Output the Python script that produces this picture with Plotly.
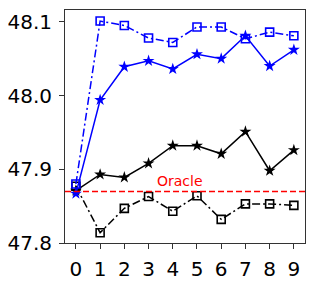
import plotly.graph_objects as go

x = list(range(10))
blue_sq = [47.880, 48.101, 48.095, 48.078, 48.072, 48.093, 48.093, 48.077, 48.086, 48.081]
blue_star = [47.867, 47.994, 48.039, 48.047, 48.036, 48.056, 48.050, 48.081, 48.040, 48.062]
black_star = [47.871, 47.893, 47.889, 47.908, 47.932, 47.932, 47.921, 47.951, 47.898, 47.926]
black_sq = [47.877, 47.814, 47.847, 47.863, 47.843, 47.864, 47.832, 47.853, 47.853, 47.851]
oracle = 47.870
yticks = [47.8, 47.9, 48.0, 48.1]

fig = go.Figure()
fig.add_trace(go.Scatter(x=x, y=black_sq, mode="lines+markers",
    line=dict(color="black", width=1.5, dash="8px,3px,2px,3px"),
    marker=dict(symbol="square-open", size=8, color="black", line=dict(width=1.6))))
fig.add_trace(go.Scatter(x=x, y=black_star, mode="lines+markers",
    line=dict(color="black", width=1.5),
    marker=dict(symbol="star", size=9, color="black")))
fig.add_trace(go.Scatter(x=x, y=blue_sq, mode="lines+markers",
    line=dict(color="#0000ff", width=1.5, dash="8px,3px,2px,3px"),
    marker=dict(symbol="square-open", size=8, color="#0000ff", line=dict(width=1.6))))
fig.add_trace(go.Scatter(x=x, y=blue_star, mode="lines+markers",
    line=dict(color="#0000ff", width=1.5),
    marker=dict(symbol="star", size=9, color="#0000ff")))

fig.add_hline(y=oracle, line=dict(color="red", width=1.5, dash="6px,3px"))
fig.add_annotation(x=4.3, y=oracle, yshift=10, text="Oracle", showarrow=False,
    font=dict(color="red", size=14, family="DejaVu Sans"))

# page body has an 8px default margin; size the figure to fit the window
fig.update_layout(
    width=308, height=273, showlegend=False,
    margin=dict(l=57, r=11, t=2, b=38),
    paper_bgcolor="white", plot_bgcolor="white",
    font=dict(family="DejaVu Sans", color="black", size=20),
)
fig.update_xaxes(range=[-0.45, 9.46], tickmode="array", tickvals=x,
    ticktext=[str(i) for i in x], showgrid=False, zeroline=False,
    showline=True, linecolor="#333", linewidth=1, mirror=True, automargin=False,
    ticks="outside", ticklen=5, tickcolor="#333", tickfont=dict(size=20),
    ticklabelstandoff=3)
fig.update_yaxes(range=[47.8, 48.116], tickmode="array", tickvals=yticks,
    ticktext=["47.8", "47.9", "48.0", "48.1"], showgrid=False, zeroline=False,
    showline=True, linecolor="#333", linewidth=1, mirror=True, automargin=False,
    ticks="outside", ticklen=5, tickcolor="#333", tickfont=dict(size=20),
    ticklabelstandoff=3)

fig.write_html("out.html")
